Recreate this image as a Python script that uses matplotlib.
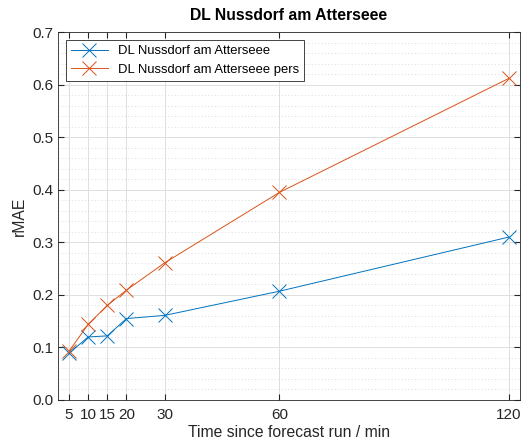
import numpy as np
import matplotlib
matplotlib.use('Agg')
import matplotlib.pyplot as plt
from matplotlib.ticker import MultipleLocator

plt.rcParams['font.family'] = ['Liberation Sans', 'DejaVu Sans']

lead = [5, 10, 15, 20, 30, 60, 120]
rmae_dl = [0.089, 0.120, 0.122, 0.155, 0.161, 0.207, 0.310]
rmae_pers = [0.093, 0.144, 0.180, 0.209, 0.261, 0.395, 0.612]
name = 'DL Nussdorf am Atterseee'

fig = plt.figure(figsize=(5.29, 4.41), dpi=100)
ax = fig.add_axes([0.1096, 0.093, 0.873, 0.834])

ax.plot(lead, rmae_dl, '-x', color='#0072BD', lw=0.7, ms=10, mew=0.7, label=name)
ax.plot(lead, rmae_pers, '-x', color='#D95319', lw=0.7, ms=10, mew=0.7, label=name + ' pers')

ax.set_xlim(2.1, 122.9)
ax.set_ylim(0, 0.7)
ax.set_xticks(lead)
ax.yaxis.set_major_locator(MultipleLocator(0.1))
ax.yaxis.set_minor_locator(MultipleLocator(0.02))
ax.grid(which='major', color='#dfdfdf', lw=0.7)
ax.grid(which='minor', axis='y', color='#d0d0d0', lw=0.6, ls=(0, (1, 3)))
ax.set_axisbelow(True)
ax.tick_params(which='both', direction='in', top=True, right=True, colors='#262626', labelsize=11)
ax.tick_params(which='minor', length=0)
ax.tick_params(which='major', length=4)
ax.tick_params(axis='x', pad=6)
for s in ax.spines.values():
    s.set_color('#262626'); s.set_linewidth(0.6)

ax.set_title('DL Nussdorf am Atterseee', fontsize=11.3, fontweight='bold', pad=9)
ax.set_xlabel('Time since forecast run / min', fontsize=11.3, color='#262626', labelpad=2)
ax.set_ylabel('rMAE', fontsize=11.3, color='#262626')
leg = ax.legend(loc='upper left', fontsize=9.4, fancybox=False, framealpha=1, edgecolor='#262626',
                borderaxespad=0.6, handlelength=2.8)
leg.get_frame().set_linewidth(0.6)

fig.savefig('out.png', dpi=100)
